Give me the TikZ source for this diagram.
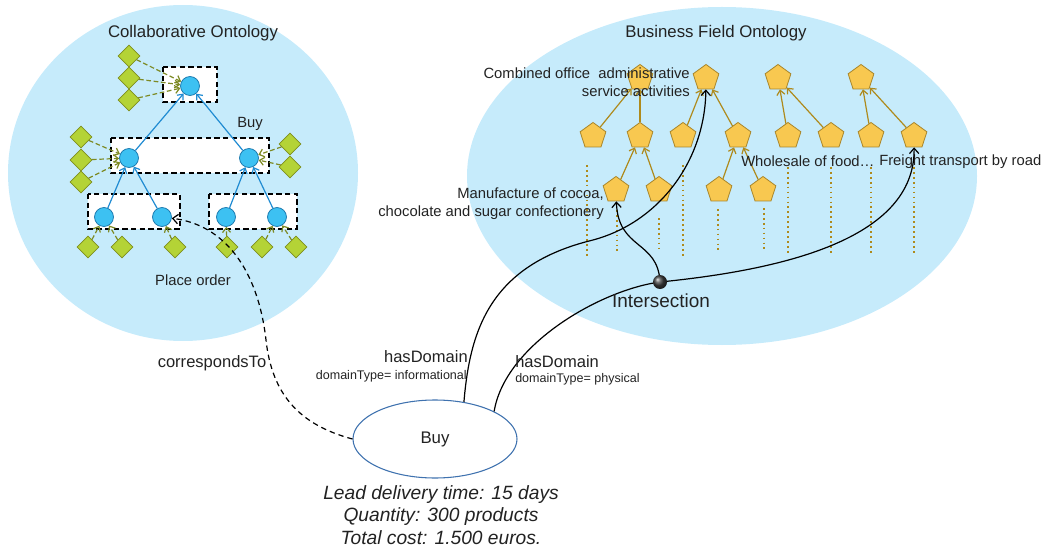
\documentclass[tikz,border=0pt]{standalone}
\usepackage{fontspec}
\setmainfont{Liberation Sans}
\usepackage{tikz}
\usetikzlibrary{arrows.meta,shapes.geometric}
\definecolor{skyfill}{HTML}{C6EBFB}
\definecolor{roleblue}{HTML}{3DC1F2}
\definecolor{roleedge}{HTML}{1B79AE}
\definecolor{linkblue}{HTML}{1F8BD2}
\definecolor{leaffill}{HTML}{B4D336}
\definecolor{leafedge}{HTML}{7E8E1E}
\definecolor{leafline}{HTML}{7D8A24}
\definecolor{sectfill}{HTML}{F8C850}
\definecolor{sectedge}{HTML}{A9862B}
\definecolor{sectline}{HTML}{AE8A1C}
\definecolor{buyedge}{HTML}{3F72AF}
\definecolor{inktext}{HTML}{222222}
\tikzset{
  % Ontology areas
  area/.style={ellipse,fill=skyfill,draw=none,inner sep=0pt},
  title/.style={font=\fontsize{12.6}{15}\selectfont,text=inktext,inner sep=0pt},
  % Collaborative ontology
  role/.style={circle,draw=roleedge,fill=roleblue,minimum size=14.2pt,
               inner sep=0pt,line width=0.6pt},
  dbox/.style={draw=black,fill=white,line width=0.8pt,dash pattern=on 4pt off 2.5pt},
  leaf/.style={diamond,draw=leafedge,fill=leaffill,minimum size=16.5pt,
               inner sep=0pt,line width=0.6pt},
  leafarrow/.style={leafline,line width=0.9pt,dash pattern=on 3.5pt off 2pt,
                    -{Straight Barb[length=3.5pt,width=6pt]}},
  linkarrow/.style={linkblue,line width=0.9pt,-{Straight Barb[length=3.5pt,width=6pt]}},
  % Business field ontology
  sect/.style={regular polygon,regular polygon sides=5,draw=sectedge,fill=sectfill,
               minimum size=20.3pt,inner sep=0pt,line width=0.6pt},
  sectarrow/.style={sectline,line width=0.9pt,-{Straight Barb[length=3.5pt,width=6pt]}},
  sectdots/.style={sectline,line width=1.3pt,dash pattern=on 1.3pt off 2.4pt},
  % Process and relations
  buyell/.style={ellipse,draw=buyedge,fill=white,minimum width=123pt,minimum height=58.5pt,
                 font=\fontsize{12.6}{15}\selectfont,text=inktext,line width=0.8pt},
  detail/.style={align=center,font=\itshape\fontsize{14.4}{16.9}\selectfont,
                 text=inktext,inner sep=0pt},
  relink/.style={black,line width=0.9pt},
  reltip/.style={-{Straight Barb[length=4pt,width=7pt]}},
  isec/.style={circle,minimum size=10.5pt,inner sep=0pt,shading=ball,ball color=black!75},
  % Labels
  lbl/.style={font=\fontsize{11.1}{13.5}\selectfont,text=inktext,inner sep=0pt},
  rel/.style={font=\fontsize{12.4}{15}\selectfont,text=inktext,inner sep=0pt},
  relsmall/.style={font=\fontsize{9.4}{11}\selectfont,text=inktext,inner sep=0pt},
  biglbl/.style={font=\fontsize{14.2}{17}\selectfont,text=inktext,inner sep=0pt}
}

\begin{document}
\begin{tikzpicture}[x=0.75pt,y=-0.75pt]
  \useasboundingbox (0,0) rectangle (1042,549);

  % Ontology areas
  \node[area,minimum width=262.5pt,minimum height=252pt] (coll) at (183,173) {};
  \node[area,minimum width=382.5pt,minimum height=253.5pt] (bfo) at (722,176) {};
  \node[title] (colltitle) at (193,33) {Collaborative Ontology};
  \node[title] (bfotitle) at (716,33) {Business Field Ontology};

  % Dashed groups
  \draw[dbox] (163,67) rectangle (217,102);
  \draw[dbox] (111,138) rectangle (269,173);
  \draw[dbox] (88,194) rectangle (180,229);
  \draw[dbox] (209,194) rectangle (297,229);

  % Roles
  \node[role] (cTop)  at (190,86)  {};
  \node[role] (cMidL) at (129,158) {};
  \node[role] (cMidR) at (249,158) {};
  \node[role] (cBotA) at (104,217) {};
  \node[role] (cBotB) at (162,217) {};
  \node[role] (cBotC) at (226,217) {};
  \node[role] (cBotD) at (277,217) {};

  % Leaves
  \node[leaf] (dT1) at (129,56)  {};
  \node[leaf] (dT2) at (129,78)  {};
  \node[leaf] (dT3) at (129,100) {};
  \node[leaf] (dL1) at (81,137)  {};
  \node[leaf] (dL2) at (81,160)  {};
  \node[leaf] (dL3) at (81,182)  {};
  \node[leaf] (dR1) at (290,144) {};
  \node[leaf] (dR2) at (290,167) {};
  \node[leaf] (dB1) at (88,247)  {};
  \node[leaf] (dB2) at (122,247) {};
  \node[leaf] (dB3) at (175,247) {};
  \node[leaf] (dB4) at (227,247) {};
  \node[leaf] (dB5) at (262,247) {};
  \node[leaf] (dB6) at (296,247) {};

  % Role hierarchy
  \draw[linkarrow] (cMidL) -- (cTop);
  \draw[linkarrow] (cMidR) -- (cTop);
  \draw[linkarrow] (cBotA) -- (cMidL);
  \draw[linkarrow] (cBotB) -- (cMidL);
  \draw[linkarrow] (cBotC) -- (cMidR);
  \draw[linkarrow] (cBotD) -- (cMidR);

  % Leaves to roles
  \draw[leafarrow] (dT1) -- (cTop);
  \draw[leafarrow] (dT2) -- (cTop);
  \draw[leafarrow] (dT3) -- (cTop);
  \draw[leafarrow] (dL1) -- (cMidL);
  \draw[leafarrow] (dL2) -- (cMidL);
  \draw[leafarrow] (dL3) -- (cMidL);
  \draw[leafarrow] (dR1) -- (cMidR);
  \draw[leafarrow] (dR2) -- (cMidR);
  \draw[leafarrow] (dB1) -- (cBotA);
  \draw[leafarrow] (dB2) -- (cBotA);
  \draw[leafarrow] (dB3) -- (cBotB);
  \draw[leafarrow] (dB4) -- (cBotC);
  \draw[leafarrow] (dB5) -- (cBotD);
  \draw[leafarrow] (dB6) -- (cBotD);

  \node[lbl] (buylbl)   at (250,124) {Buy};
  \node[lbl] (placelbl) at (193,280) {Place order};

  % Sector stubs
  \draw[sectdots] (587,165) -- (587,258);
  \draw[sectdots] (617,210) -- (617,252);
  \draw[sectdots] (659,218) -- (659,252);
  \draw[sectdots] (683,165) -- (683,257);
  \draw[sectdots] (718,209) -- (718,253);
  \draw[sectdots] (764,208) -- (764,252);
  \draw[sectdots] (788,167) -- (788,255);
  \draw[sectdots] (831,167) -- (831,255);
  \draw[sectdots] (871,167) -- (871,254);
  \draw[sectdots] (914,167) -- (914,255);

  % Sectors
  \node[sect] (pA1) at (640,78) {};
  \node[sect] (pA2) at (706,78) {};
  \node[sect] (pA3) at (778,78) {};
  \node[sect] (pA4) at (861,78) {};
  \node[sect] (pB1) at (593,136) {};
  \node[sect] (pB2) at (640,136) {};
  \node[sect] (pB3) at (683,136) {};
  \node[sect] (pB4) at (738,136) {};
  \node[sect] (pB5) at (788,136) {};
  \node[sect] (pB6) at (831,136) {};
  \node[sect] (pB7) at (871,136) {};
  \node[sect] (pB8) at (914,136) {};
  \node[sect] (pC1) at (616,190) {};
  \node[sect] (pC2) at (659,190) {};
  \node[sect] (pC3) at (719,190) {};
  \node[sect] (pC4) at (763,190) {};

  % Sector hierarchy
  \draw[sectarrow] (pB1) -- (pA1);
  \draw[sectarrow] (pB2) -- (pA1);
  \draw[sectarrow] (pB3) -- (pA2);
  \draw[sectarrow] (pB4) -- (pA2);
  \draw[sectarrow] (pB5) -- (pA3);
  \draw[sectarrow] (pB6) -- (pA3);
  \draw[sectarrow] (pB7) -- (pA4);
  \draw[sectarrow] (pB8) -- (pA4);
  \draw[sectarrow] (pC1) -- (pB2);
  \draw[sectarrow] (pC2) -- (pB2);
  \draw[sectarrow] (pC3) -- (pB4);
  \draw[sectarrow] (pC4) -- (pB4);

  \node[lbl,anchor=east,align=right] (lblA) at (690,82) {Combined office\ \ administrative\\service activities};
  \node[lbl,anchor=east,align=right] (lblC) at (604,204) {Manufacture of cocoa,\\chocolate and sugar confectionery};
  \node[lbl,anchor=west] (lblW) at (741,161) {Wholesale of food…};
  \node[lbl,anchor=west] (lblF) at (879,162) {Freight transport by road};

  % Process
  \node[buyell] (buy) at (435,439) {Buy};
  \node[detail] (facts) at (441,515) {Lead delivery time: 15 days\\Quantity: 300 products\\Total cost: 1.500 euros.};
  \coordinate (isecpt) at (660,282);

  % Relations
  \draw[relink,reltip,dash pattern=on 4pt off 3pt] (buy.west) .. controls (300,425) and (272,395) .. (266,340)
    .. controls (258,270) and (225,225) .. (cBotB);
  \draw[relink,reltip] (buy.52) .. controls (470,330) and (490,265) .. (593,240)
    .. controls (660,222) and (705,160) .. (pA2);
  \draw[relink,reltip] (buy.25) .. controls (505,345) and (600,290) .. (isecpt)
    .. controls (780,270) and (915,240) .. (pB8);
  \draw[relink,reltip] (isecpt) .. controls (658,240) and (618,250) .. (pC1);
  \node[isec] (isec) at (isecpt) {};

  \node[rel] (corr) at (212,363) {correspondsTo};
  \node[rel,anchor=east] (hd1) at (468,357) {hasDomain};
  \node[relsmall,anchor=east] (dt1) at (467,376) {domainType= informational};
  \node[rel,anchor=west] (hd2) at (515,362) {hasDomain};
  \node[relsmall,anchor=west] (dt2) at (515,379) {domainType= physical};
  \node[biglbl] (iseclbl) at (661,301) {Intersection};
\end{tikzpicture}
\end{document}
